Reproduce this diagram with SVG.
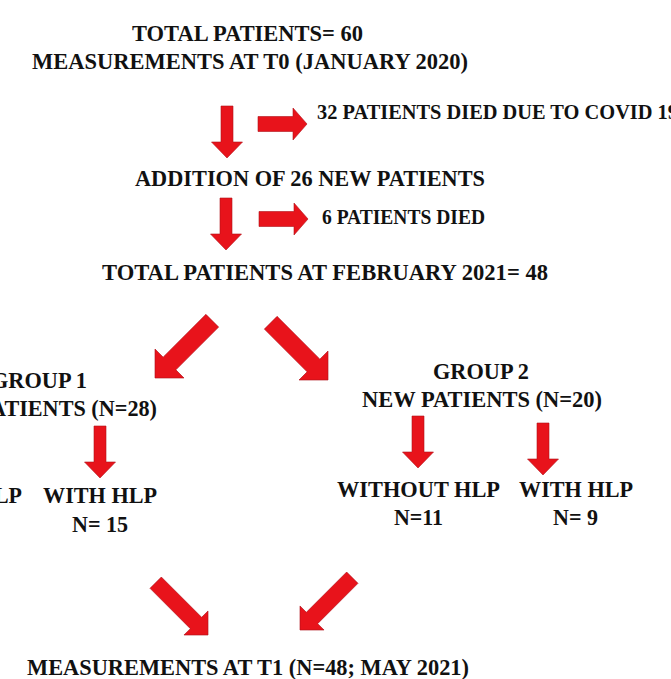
<svg xmlns="http://www.w3.org/2000/svg" width="671" height="679" viewBox="0 0 671 679">
<style>
.t{font-family:"Liberation Serif","Times New Roman",serif;font-weight:bold;font-size:24px;fill:#111}
.s{font-size:20px}
.a{fill:#e8131b;stroke:#b0101a;stroke-width:0.6}
</style>
<defs>
<path id="vd" d="M-6,-52 L6,-52 L6,-16 L15.5,-16 L0,0 L-15.5,-16 L-6,-16 Z"/>
<path id="hr" d="M-7.5,-49 L7.5,-49 L7.5,-14 L16,-14 L0,0 L-16,-14 L-7.5,-14 Z"/>
<path id="dg" d="M-9,-81 L9,-81 L9,-20.5 L20.5,-20.5 L0,0 L-20.5,-20.5 L-9,-20.5 Z"/>
<path id="db" d="M-8,-74 L8,-74 L8,-17 L17,-17 L0,0 L-17,-17 L-8,-17 Z"/>
</defs>
<rect width="671" height="679" fill="#fff"/>
<g id="connectors">
<use href="#vd" class="a" transform="translate(227,158)"/>
<use href="#hr" class="a" transform="translate(307,124) rotate(-90)"/>
<use href="#vd" class="a" transform="translate(226,250)"/>
<use href="#hr" class="a" transform="translate(308,219) rotate(-90)"/>
<use href="#dg" class="a" transform="translate(155,378) rotate(45)"/>
<use href="#dg" class="a" transform="translate(328,380) rotate(-45)"/>
<use href="#vd" class="a" transform="translate(100,478)"/>
<use href="#vd" class="a" transform="translate(418,468)"/>
<use href="#vd" class="a" transform="translate(543,475)"/>
<use href="#db" class="a" transform="translate(208,635) rotate(-45)"/>
<use href="#db" class="a" transform="translate(300,630) rotate(45)"/>
</g>
<g id="n-start">
<text class="t" x="132" y="41" textLength="231" lengthAdjust="spacingAndGlyphs">TOTAL PATIENTS=  60</text>
<text class="t" x="32" y="69" textLength="436" lengthAdjust="spacingAndGlyphs">MEASUREMENTS AT T0 (JANUARY 2020)</text>
</g>
<g id="n-died1"><text class="t s" x="317" y="119" textLength="361" lengthAdjust="spacingAndGlyphs">32 PATIENTS  DIED  DUE TO  COVID  19</text></g>
<g id="n-addition"><text class="t" x="135" y="186" textLength="350" lengthAdjust="spacingAndGlyphs">ADDITION  OF 26 NEW PATIENTS</text></g>
<g id="n-died2"><text class="t s" x="322" y="224" textLength="163" lengthAdjust="spacingAndGlyphs">6 PATIENTS  DIED</text></g>
<g id="n-total"><text class="t" x="102" y="280" textLength="446" lengthAdjust="spacingAndGlyphs">TOTAL PATIENTS  AT FEBRUARY 2021= 48</text></g>
<g id="n-group1">
<text class="t" x="-9" y="388" textLength="96" lengthAdjust="spacingAndGlyphs">GROUP 1</text>
<text class="t" x="-10" y="416" textLength="167" lengthAdjust="spacingAndGlyphs">ATIENTS  (N=28)</text>
</g>
<g id="n-g1-without"><text class="t" x="-6" y="503" textLength="28" lengthAdjust="spacingAndGlyphs">LP</text></g>
<g id="n-g1-with">
<text class="t" x="43" y="503" textLength="114" lengthAdjust="spacingAndGlyphs">WITH HLP</text>
<text class="t" x="72" y="532" textLength="56" lengthAdjust="spacingAndGlyphs">N= 15</text>
</g>
<g id="n-group2">
<text class="t" x="433" y="379" textLength="96" lengthAdjust="spacingAndGlyphs">GROUP 2</text>
<text class="t" x="362" y="407" textLength="240" lengthAdjust="spacingAndGlyphs">NEW PATIENTS  (N=20)</text>
</g>
<g id="n-g2-without">
<text class="t" x="337" y="497" textLength="163" lengthAdjust="spacingAndGlyphs">WITHOUT  HLP</text>
<text class="t" x="394" y="525" textLength="49" lengthAdjust="spacingAndGlyphs">N=11</text>
</g>
<g id="n-g2-with">
<text class="t" x="519" y="497" textLength="114" lengthAdjust="spacingAndGlyphs">WITH HLP</text>
<text class="t" x="553" y="525" textLength="45" lengthAdjust="spacingAndGlyphs">N= 9</text>
</g>
<g id="n-end"><text class="t" x="27" y="675" textLength="442" lengthAdjust="spacingAndGlyphs">MEASUREMENTS AT T1 (N=48; MAY 2021)</text></g>
</svg>
